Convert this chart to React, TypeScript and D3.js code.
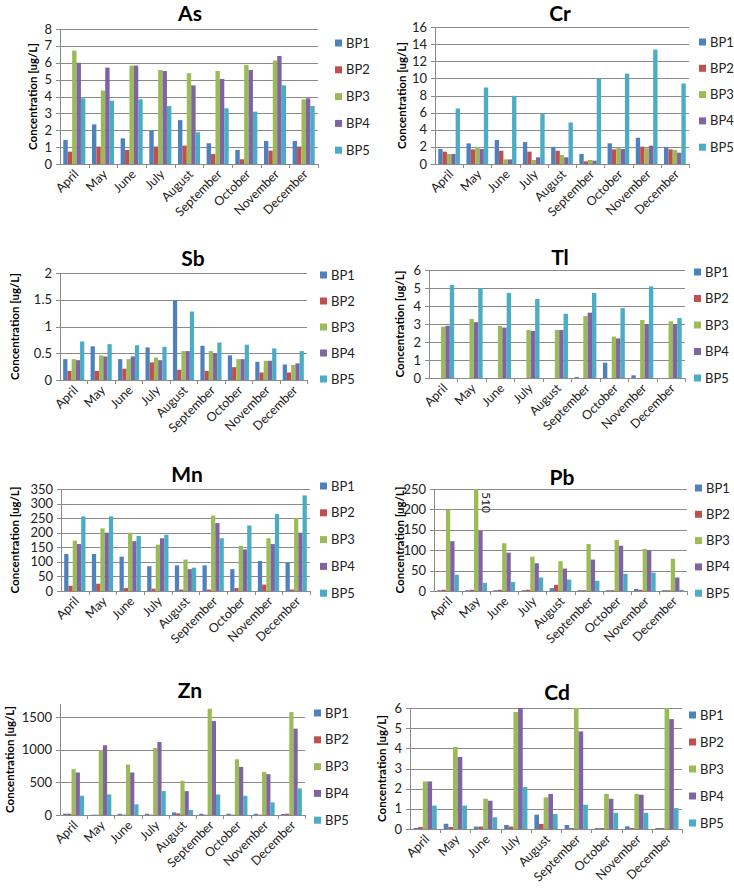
import React from "react";
import * as d3 from "d3";

const months = ["April", "May", "June", "July", "August", "September", "October", "November", "December"];
const seriesNames = ["BP1", "BP2", "BP3", "BP4", "BP5"];
const colors = ["#4F81BD", "#C0504D", "#9BBB59", "#8064A2", "#4BACC6"];

// values per series (BP1..BP5), each across months
const asValues = [
  [1.42, 2.35, 1.52, 1.98, 2.6, 1.23, 0.83, 1.36, 1.36],
  [0.73, 1.03, 0.83, 1.03, 1.09, 0.59, 0.28, 0.79, 1.03],
  [6.72, 4.35, 5.83, 5.57, 5.38, 5.51, 5.87, 6.13, 3.83],
  [6.0, 5.71, 5.83, 5.51, 4.66, 5.04, 5.57, 6.4, 3.89],
  [3.89, 3.75, 3.83, 3.44, 1.88, 3.3, 3.1, 4.66, 3.44],
];
const crValues = [
  [1.75, 2.41, 2.8, 2.56, 2.0, 1.17, 2.41, 3.07, 2.0],
  [1.44, 1.71, 1.55, 1.44, 1.55, 0.31, 1.71, 2.02, 1.71],
  [1.17, 2.0, 0.54, 0.47, 1.05, 0.47, 1.94, 1.83, 1.63],
  [1.17, 1.75, 0.54, 0.78, 0.78, 0.39, 1.75, 2.14, 1.32],
  [6.49, 8.93, 7.96, 5.83, 4.85, 10.0, 10.56, 13.36, 9.4],
];
const sbValues = [
  [0.39, 0.63, 0.39, 0.61, 1.49, 0.64, 0.46, 0.34, 0.29],
  [0.17, 0.17, 0.21, 0.33, 0.19, 0.17, 0.24, 0.14, 0.14],
  [0.39, 0.46, 0.39, 0.42, 0.54, 0.54, 0.39, 0.36, 0.28],
  [0.37, 0.44, 0.44, 0.37, 0.54, 0.5, 0.39, 0.36, 0.31],
  [0.72, 0.67, 0.65, 0.62, 1.28, 0.7, 0.66, 0.59, 0.54],
];
const tlValues = [
  [0, 0, 0, 0, 0, 0.05, 0.85, 0.15, 0],
  [0, 0, 0, 0, 0, 0, 0, 0, 0],
  [2.85, 3.28, 2.89, 2.67, 2.67, 3.44, 2.3, 3.22, 3.15],
  [2.9, 3.1, 2.8, 2.61, 2.67, 3.63, 2.2, 3.0, 3.0],
  [5.17, 5.0, 4.72, 4.39, 3.57, 4.72, 3.88, 5.09, 3.33],
];
const mnValues = [
  [127, 127, 118, 85, 88, 88, 75, 103, 97],
  [18, 25, 10, 8, 5, 5, 10, 22, 5],
  [173, 215, 200, 159, 108, 259, 155, 181, 250],
  [161, 200, 171, 181, 75, 233, 143, 161, 200],
  [256, 256, 189, 193, 80, 181, 225, 264, 328],
];
const pbValues = [
  [2, 2, 2, 2, 7, 2, 2, 5, 2],
  [3, 3, 3, 3, 15, 2, 2, 3, 2],
  [200, 510, 117, 84, 73, 115, 125, 103, 79],
  [122, 147, 94, 68, 55, 77, 111, 100, 33],
  [40, 20, 22, 33, 28, 25, 42, 45, 3],
];
const znValues = [
  [20, 5, 20, 20, 40, 20, 20, 20, 15],
  [20, 5, 5, 5, 25, 5, 5, 5, 20],
  [702, 991, 773, 1027, 524, 1627, 854, 661, 1576],
  [651, 1068, 651, 1118, 366, 1439, 737, 625, 1322],
  [295, 315, 163, 366, 76, 315, 295, 193, 407],
];
const cdValues = [
  [0.05, 0.26, 0.12, 0.2, 0.71, 0.2, 0.05, 0.13, 0.05],
  [0.1, 0.1, 0.12, 0.12, 0.25, 0.05, 0.05, 0.05, 0.05],
  [2.36, 4.07, 1.5, 5.8, 1.57, 6.0, 1.74, 1.74, 6.0],
  [2.36, 3.57, 1.4, 6.0, 1.74, 4.84, 1.5, 1.7, 5.45],
  [1.16, 1.16, 0.58, 2.08, 0.74, 1.2, 0.8, 0.8, 1.04],
];

const pbNote = "510";
const yTitle = "Concentration [ug/L]";

type Panel = {
  title: string;
  values: number[][];
  max: number;
  step: number;
  left: number;
  right: number;
  top: number;
  bottom: number;
  titleX: number;
  titleY: number;
  legendX: number;
  legendY: number;
  legendDy: number;
  labelX: number;
  note?: string;
};

const panels: Panel[] = [
  { title: "As", values: asValues, max: 8, step: 1, left: 60, right: 318, top: 29, bottom: 164, titleX: 190, titleY: 21, legendX: 335, legendY: 43, legendDy: 26.8, labelX: 33 },
  { title: "Cr", values: crValues, max: 16, step: 2, left: 435, right: 689, top: 27, bottom: 164, titleX: 560, titleY: 21, legendX: 699, legendY: 42, legendDy: 26.3, labelX: 402 },
  { title: "Sb", values: sbValues, max: 2, step: 0.5, left: 60, right: 307, top: 273, bottom: 380, titleX: 193, titleY: 266, legendX: 320, legendY: 275, legendDy: 26, labelX: 15 },
  { title: "Tl", values: tlValues, max: 6, step: 1, left: 429, right: 685, top: 270, bottom: 378, titleX: 560, titleY: 265, legendX: 694, legendY: 272, legendDy: 26.5, labelX: 400 },
  { title: "Mn", values: mnValues, max: 350, step: 50, left: 61, right: 310, top: 489, bottom: 591, titleX: 187, titleY: 482, legendX: 320, legendY: 486, legendDy: 26.8, labelX: 15 },
  { title: "Pb", values: pbValues, max: 250, step: 50, left: 434, right: 687, top: 489, bottom: 591, titleX: 562, titleY: 485, legendX: 695, legendY: 488, legendDy: 26.3, labelX: 400, note: pbNote },
  { title: "Zn", values: znValues, max: 1700, step: 500, left: 60, right: 305, top: 704, bottom: 815, titleX: 190, titleY: 698, legendX: 314, legendY: 713, legendDy: 26.8, labelX: 10 },
  { title: "Cd", values: cdValues, max: 6, step: 1, left: 410, right: 682, top: 708, bottom: 829, titleX: 557, titleY: 700, legendX: 689, legendY: 715, legendDy: 27, labelX: 382 },
];

const FONT = "Lato, 'Open Sans', sans-serif";
const GRID = "#8a8a8a";

function ChartPanel({ p }: { p: Panel }) {
  const x0 = d3
    .scaleBand<string>()
    .domain(months)
    .range([p.left, p.right])
    .paddingInner(1.5 / 6.5)
    .paddingOuter(0.75 / 6.5);
  const x1 = d3.scaleBand<string>().domain(seriesNames).range([0, x0.bandwidth()]);
  const y = d3.scaleLinear().domain([0, p.max]).range([p.bottom, p.top]);
  const ticks = d3.range(0, p.max + 1e-9, p.step);
  const catStep = (p.right - p.left) / months.length;

  return (
    <g>
      <text x={p.titleX} y={p.titleY} textAnchor="middle" fontFamily={FONT} fontWeight="bold" fontSize={21} fill="#000">
        {p.title}
      </text>
      {ticks.map((t) => (
        <g key={t}>
          <line x1={p.left - 4} x2={p.right} y1={Math.round(y(t)) + 0.5} y2={Math.round(y(t)) + 0.5} stroke={GRID} strokeWidth={1} />
          <text x={p.left - 8} y={y(t)} dy="0.35em" textAnchor="end" fontFamily={FONT} fontSize={13} fill="#222">
            {String(+t.toFixed(2))}
          </text>
        </g>
      ))}
      <line x1={p.left + 0.5} x2={p.left + 0.5} y1={p.top} y2={p.bottom} stroke={GRID} />
      {months.map((m, i) => {
        const xb = p.left + catStep * (i + 1);
        return <line key={m} x1={Math.round(xb) + 0.5} x2={Math.round(xb) + 0.5} y1={p.bottom} y2={p.bottom + 4} stroke={GRID} />;
      })}
      {p.values.map((series, si) =>
        series.map((v, mi) => {
          const vv = Math.min(v, p.max);
          const bx = (x0(months[mi]) as number) + (x1(seriesNames[si]) as number);
          return (
            <rect
              key={si + "-" + mi}
              x={bx}
              y={y(vv)}
              width={x1.bandwidth()}
              height={p.bottom - y(vv)}
              fill={colors[si]}
            />
          );
        })
      )}
      {p.note && (() => {
        const mi = p.values[2].findIndex((v) => v > p.max);
        const bx = (x0(months[mi]) as number) + (x1(seriesNames[2]) as number) + x1.bandwidth();
        return (
          <text
            transform={`translate(${bx + 4},${p.top + 3}) rotate(90)`}
            fontFamily={FONT}
            fontSize={12}
            fill="#222"
          >
            {p.note}
          </text>
        );
      })()}
      {months.map((m) => {
        const cx = (x0(m) as number) + x0.bandwidth() / 2;
        return (
          <text
            key={m}
            transform={`translate(${cx + 5},${p.bottom + 11}) rotate(-45)`}
            textAnchor="end"
            fontFamily={FONT}
            fontSize={12.5}
            fill="#222"
          >
            {m}
          </text>
        );
      })}
      <text
        transform={`translate(${p.labelX},${(p.top + p.bottom) / 2}) rotate(-90)`}
        textAnchor="middle"
        dy="0.35em"
        fontFamily={FONT}
        fontWeight="bold"
        fontSize={11.5}
        fill="#000"
      >
        {yTitle}
      </text>
      {seriesNames.map((s, si) => (
        <g key={s} transform={`translate(${p.legendX},${p.legendY + si * p.legendDy})`}>
          <rect x={0} y={-3.5} width={7} height={7} fill={colors[si]} />
          <text x={11} y={0} dy="0.35em" fontFamily={FONT} fontSize={13} fill="#222">
            {s}
          </text>
        </g>
      ))}
    </g>
  );
}

export default function App() {
  return (
    <svg
      width={734}
      height={889}
      style={{ position: "absolute", left: 0, top: 0, background: "#fff" }}
    >
      <rect x={0} y={0} width={734} height={889} fill="#fff" />
      {panels.map((p) => (
        <ChartPanel key={p.title} p={p} />
      ))}
    </svg>
  );
}
